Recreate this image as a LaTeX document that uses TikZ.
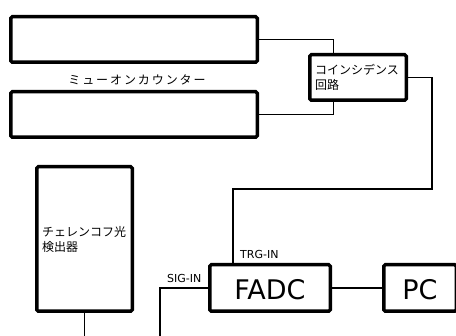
\documentclass[tikz,border=0pt]{standalone}
\usepackage{fontspec}
\setmainfont{DejaVu Sans}
\newfontfamily\jp{Noto Sans CJK JP}
\newfontfamily\jpspaced[LetterSpace=16]{Noto Sans CJK JP}
\usetikzlibrary{calc}
\begin{document}
\begin{tikzpicture}[x=1pt,y=-1pt,
  box/.style={draw=black, line width=3.5pt, rounded corners=1.5pt, fill=white, inner sep=0pt, outer sep=0pt},
  wire/.style={draw=black, line width=1.2pt},
  jptext/.style={font=\jp\fontsize{12}{15}\selectfont},
  port/.style={font=\fontsize{11}{13}\selectfont, inner sep=0pt, anchor=base west},
  big/.style={font=\fontsize{27}{30}\selectfont, text height=24pt, text depth=0pt}]
\useasboundingbox (0,0) rectangle (456,336);
\fill[white] (0,0) rectangle (456,336);

\node[box, minimum width=246.5pt, minimum height=45.5pt] (mu1) at (134,39.5) {};
\node[box, minimum width=246.5pt, minimum height=45.5pt] (mu2) at (134,114.5) {};
\node[font=\jpspaced\fontsize{12}{15}\selectfont, inner sep=0pt, anchor=base] (mulabel) at (137,85) {ミューオンカウンター};

\node[box, minimum width=96.5pt, minimum height=45.5pt, jptext, align=left, text width=86pt, inner xsep=5pt] (coinc) at (358,77.5) {コインシデンス\\回路};

\node[box, minimum width=95.5pt, minimum height=144.5pt, jptext, align=left, text width=85pt, inner xsep=5pt] (cher) at (84.5,239) {チェレンコフ光\\検出器};

\node[box, minimum width=120.5pt, minimum height=46.5pt, big] (fadc) at (270,288) {FADC};
\node[box, minimum width=72.5pt, minimum height=46.5pt, big] (pc) at (420,288) {PC};

\node[port] (trg) at (240,258.5) {TRG-IN};
\node[port] (sig) at (167,283) {SIG-IN};

\coordinate (cn) at ($(coinc.north west)!0.25!(coinc.north east)$);
\coordinate (cs) at ($(coinc.south west)!0.25!(coinc.south east)$);
\coordinate (turn) at (432,189);
\coordinate (ft) at ($(fadc.north west)!0.193!(fadc.north east)$);
\coordinate (sigend) at (160,337);
\coordinate (cherend) at (84.5,337);

\draw[wire] (mu1.east) -| (cn);
\draw[wire] (cs) |- (mu2.east);
\draw[wire] (coinc.east) -| (turn) -| (ft);
\draw[wire] (fadc.east) -- (pc.west);
\draw[wire] (fadc.west) -| (sigend);
\draw[wire] (cher.south) -- (cherend);
\end{tikzpicture}
\end{document}
